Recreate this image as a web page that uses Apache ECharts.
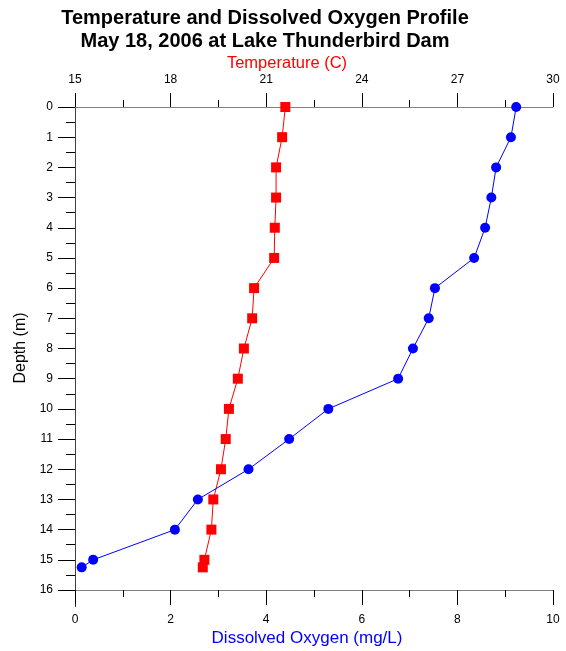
<!DOCTYPE html>
<html>
<head>
<meta charset="utf-8">
<script src="https://cdn.jsdelivr.net/npm/echarts@6/dist/echarts.min.js"></script>
<style>html,body{margin:0;padding:0;background:#fff;}#c{width:566px;height:651px;}</style>
</head>
<body>
<div id="c"></div>
<script>
// Depth (m) of each measurement
const depths = [0, 1, 2, 3, 4, 5, 6, 7, 8, 9, 10, 11, 12, 13, 14, 15, 15.25];
// Temperature (C), top axis
const temperature = [21.60, 21.50, 21.31, 21.31, 21.27, 21.25, 20.62, 20.56, 20.30, 20.11, 19.83, 19.73, 19.58, 19.34, 19.28, 19.06, 19.01];
// Dissolved oxygen (mg/L), bottom axis
const dissolvedOxygen = [9.23, 9.12, 8.81, 8.71, 8.58, 8.35, 7.53, 7.40, 7.07, 6.76, 5.30, 4.48, 3.63, 2.57, 2.09, 0.38, 0.14];

const titleLines = ['Temperature and Dissolved Oxygen Profile', 'May 18, 2006 at Lake Thunderbird Dam'];
const tempName = 'Temperature (C)';
const doName = 'Dissolved Oxygen (mg/L)';
const depthName = 'Depth (m)';

const FONT = '"Liberation Sans", Arial, sans-serif';
const chart = echarts.init(document.getElementById('c'), null, {renderer: 'canvas'});

const tempData = depths.map((d, i) => [temperature[i], d]);
const doData = depths.map((d, i) => [dissolvedOxygen[i], d]);

chart.setOption({
  animation: false,
  backgroundColor: '#fff',
  grid: {left: 75, right: 13, top: 107, bottom: 61, containLabel: false},
  xAxis: [
    {
      type: 'value', position: 'bottom', min: 0, max: 10, interval: 2,
      axisLine: {show: true, onZero: false, lineStyle: {color: '#808080', width: 1}},
      axisTick: {show: true, length: 15, lineStyle: {color: '#000'}},
      minorTick: {show: true, splitNumber: 2, length: 7, lineStyle: {color: '#000'}},
      splitLine: {show: false},
      axisLabel: {margin: 24, color: '#000', fontSize: 12, fontFamily: FONT}
    },
    {
      type: 'value', position: 'top', min: 15, max: 30, interval: 3,
      axisLine: {show: true, onZero: false, lineStyle: {color: '#808080', width: 1}},
      axisTick: {show: true, length: 14, lineStyle: {color: '#000'}},
      minorTick: {show: true, splitNumber: 2, length: 7, lineStyle: {color: '#000'}},
      splitLine: {show: false},
      axisLabel: {margin: 21, color: '#000', fontSize: 12, fontFamily: FONT}
    }
  ],
  yAxis: {
    type: 'value', inverse: true, min: 0, max: 16, interval: 1,
    axisLine: {show: false, onZero: false},
    axisTick: {show: true, length: 17, lineStyle: {color: '#000'}},
    minorTick: {show: true, splitNumber: 2, length: 9, lineStyle: {color: '#000'}},
    splitLine: {show: false},
    axisLabel: {margin: 22, color: '#000', fontSize: 12, fontFamily: FONT}
  },
  graphic: [
    {type: 'line', silent: true, shape: {x1: 75.5, y1: 93, x2: 75.5, y2: 607}, style: {stroke: '#404040', lineWidth: 1}},
    {type: 'text', style: {x: 265, y: 18, text: titleLines[0], font: 'bold 20px ' + FONT, fill: '#000', textAlign: 'center', textVerticalAlign: 'middle'}},
    {type: 'text', style: {x: 265, y: 41, text: titleLines[1], font: 'bold 20px ' + FONT, fill: '#000', textAlign: 'center', textVerticalAlign: 'middle'}},
    {type: 'text', style: {x: 287, y: 63, text: tempName, font: '16.5px ' + FONT, fill: '#ff0000', textAlign: 'center', textVerticalAlign: 'middle'}},
    {type: 'text', style: {x: 307, y: 638, text: doName, font: '17px ' + FONT, fill: '#0000ff', textAlign: 'center', textVerticalAlign: 'middle'}},
    {type: 'text', rotation: Math.PI / 2, x: 21, y: 348, style: {x: 0, y: 0, text: depthName, font: '16px ' + FONT, fill: '#000', textAlign: 'center', textVerticalAlign: 'middle'}}
  ],
  series: [
    {
      type: 'line', xAxisIndex: 1, yAxisIndex: 0, data: tempData,
      symbol: 'rect', symbolSize: 10, showAllSymbol: true,
      lineStyle: {color: '#ff0000', width: 1},
      itemStyle: {color: '#ff0000'}
    },
    {
      type: 'line', xAxisIndex: 0, yAxisIndex: 0, data: doData,
      symbol: 'circle', symbolSize: 10, showAllSymbol: true,
      lineStyle: {color: '#0000ff', width: 1},
      itemStyle: {color: '#0000ff'}
    }
  ]
});
</script>
</body>
</html>
